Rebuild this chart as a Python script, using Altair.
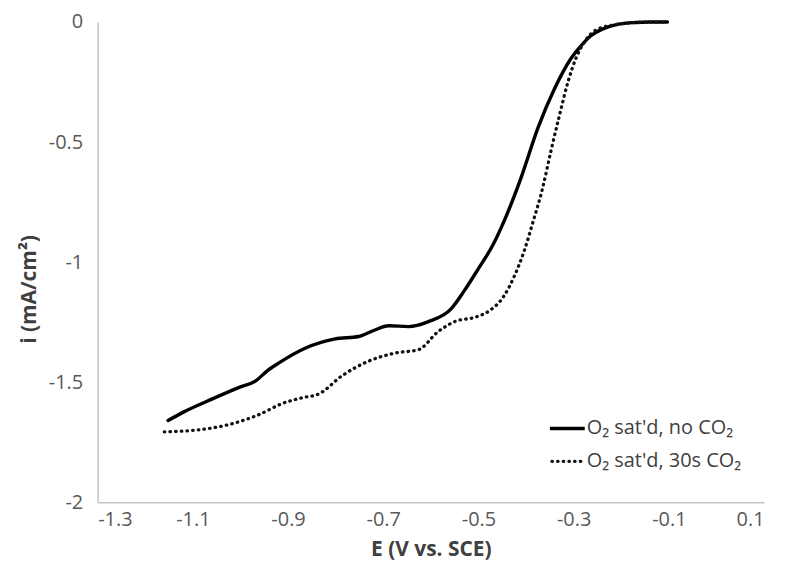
import altair as alt
import pandas as pd

# ---- data ----
E_solid = [-1.152, -1.12, -1.059, -1.0, -0.968, -0.945, -0.919, -0.863, -0.801, -0.752, -0.72,
           -0.689, -0.647, -0.605, -0.557, -0.53, -0.501, -0.47, -0.445, -0.41, -0.375,
           -0.34, -0.306, -0.285, -0.264, -0.24, -0.208, -0.17, -0.14, -0.103]
i_solid = [-1.66, -1.625, -1.57, -1.52, -1.495, -1.455, -1.42, -1.358, -1.32, -1.31, -1.285,
           -1.265, -1.269, -1.248, -1.194, -1.12, -1.03, -0.93, -0.824, -0.646, -0.441,
           -0.277, -0.153, -0.10, -0.057, -0.03, -0.01, -0.002, 0.0, 0.0]

E_dot = [-1.16, -1.094, -1.031, -0.968, -0.905, -0.87, -0.836, -0.787, -0.731, -0.675,
         -0.626, -0.585, -0.55, -0.504, -0.475, -0.448, -0.425, -0.405, -0.385, -0.365,
         -0.348, -0.33, -0.312, -0.295, -0.278, -0.25, -0.208, -0.17, -0.14, -0.103]
i_dot = [-1.707, -1.70, -1.68, -1.641, -1.584, -1.565, -1.55, -1.474, -1.413, -1.379,
         -1.365, -1.29, -1.248, -1.228, -1.20, -1.146, -1.06, -0.96, -0.83, -0.69,
         -0.54, -0.39, -0.25, -0.15, -0.085, -0.03, -0.01, -0.002, 0.0, 0.0]

series_labels = ["O\u2082 sat'd, no CO\u2082", "O\u2082 sat'd, 30s CO\u2082"]
x_ticks = [-1.3, -1.1, -0.9, -0.7, -0.5, -0.3, -0.1, 0.1]
y_ticks = [-2, -1.5, -1, -0.5, 0]

df_solid = pd.DataFrame({"E": E_solid, "i": i_solid, "series": series_labels[0]})
df_dot = pd.DataFrame({"E": E_dot, "i": i_dot, "series": series_labels[1]})

FONT = "Open Sans"

x_enc = alt.X("E:Q", scale=alt.Scale(domain=[-1.3, 0.1], nice=False, zero=False),
              axis=alt.Axis(values=x_ticks, labelExpr="'' + datum.value",
                            title="E  (V vs. SCE)", labelPadding=7,
                            titleY=48, titleBaseline="middle"))
y_enc = alt.Y("i:Q", scale=alt.Scale(domain=[-2, 0], nice=False, zero=False),
              axis=alt.Axis(values=y_ticks, labelExpr="'' + datum.value",
                            title="i  (mA/cm\u00b2)", labelPadding=15,
                            titleX=-68, titleY=268, titleBaseline="middle",
                            titleAlign="center"))

solid = alt.Chart(df_solid).mark_line(
    color="black", strokeWidth=3.4, interpolate="monotone", strokeCap="round"
).encode(x=x_enc, y=y_enc)

dotted = alt.Chart(df_dot).mark_line(
    color="#111111", strokeWidth=3.3, interpolate="monotone",
    strokeCap="round", strokeDash=[0.5, 5.2]
).encode(x="E:Q", y="i:Q")

# legend (manual, no frame)
leg_df = pd.DataFrame({"k": [0]})
leg_solid_line = alt.Chart(leg_df).mark_rule(color="black", strokeWidth=3.4).encode(
    x=alt.value(454), x2=alt.value(489), y=alt.value(408))
leg_dot_line = alt.Chart(leg_df).mark_rule(
    color="#111111", strokeWidth=3.3, strokeCap="round", strokeDash=[0.5, 5.2]
).encode(x=alt.value(456), x2=alt.value(488), y=alt.value(441))
leg_text1 = alt.Chart(leg_df).mark_text(
    align="left", baseline="middle", font=FONT, fontSize=20, color="#404040"
).encode(x=alt.value(491), y=alt.value(408), text=alt.value(series_labels[0]))
leg_text2 = alt.Chart(leg_df).mark_text(
    align="left", baseline="middle", font=FONT, fontSize=20, color="#404040"
).encode(x=alt.value(491), y=alt.value(441), text=alt.value(series_labels[1]))

chart = alt.layer(
    solid, dotted, leg_solid_line, leg_dot_line, leg_text1, leg_text2
).properties(
    width=669, height=482,
    autosize=alt.AutoSizeParams(type="none"),
    padding={"left": 90, "top": 13, "right": 14, "bottom": 58},
    background="white",
).configure_view(
    stroke=None
).configure_axis(
    domainColor="#c4c4c4", domainWidth=1.5, ticks=False, grid=False,
    labelFont=FONT, labelFontSize=20, labelColor="#595959",
    titleFont=FONT, titleFontSize=21, titleFontWeight="bold", titleColor="#404040",
)

chart.save("out.html", embed_options={"renderer": "svg", "actions": False})
